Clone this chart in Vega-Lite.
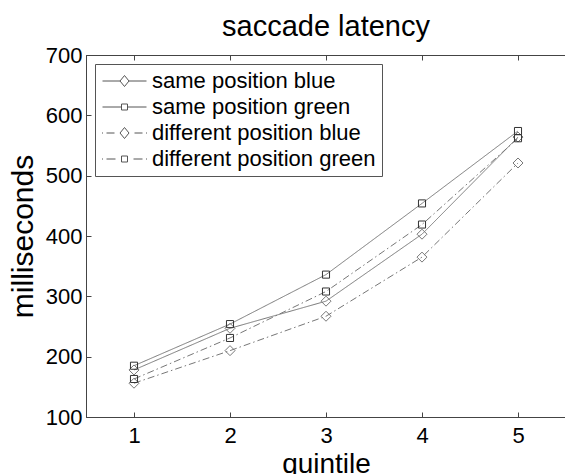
{
  "$schema": "https://vega.github.io/schema/vega-lite/v6.json",
  "width": 480,
  "height": 362,
  "autosize": {"type": "none"},
  "padding": {"left": 86, "top": 55, "right": 0, "bottom": 57},
  "background": "white",
  "title": {"text": "saccade latency", "fontSize": 29, "font": "Liberation Sans", "fontWeight": "normal", "color": "black", "anchor": "middle", "baseline": "alphabetic", "offset": 18, "dy": 39},
  "config": {
    "view": {"stroke": "#444", "strokeWidth": 1},
    "axis": {"grid": false, "domainColor": "#444", "tickColor": "#444", "labelColor": "black", "titleColor": "black", "labelFont": "Liberation Sans", "titleFont": "Liberation Sans", "titleFontWeight": "normal"}
  },
  "resolve": {"axis": {"x": "independent"}},
  "data": {"values": [
    {"q": 1, "series": "same position blue", "ms": 178},
    {"q": 2, "series": "same position blue", "ms": 247},
    {"q": 3, "series": "same position blue", "ms": 292},
    {"q": 4, "series": "same position blue", "ms": 403},
    {"q": 5, "series": "same position blue", "ms": 564},
    {"q": 1, "series": "same position green", "ms": 185},
    {"q": 2, "series": "same position green", "ms": 254},
    {"q": 3, "series": "same position green", "ms": 336},
    {"q": 4, "series": "same position green", "ms": 454},
    {"q": 5, "series": "same position green", "ms": 574},
    {"q": 1, "series": "different position blue", "ms": 156},
    {"q": 2, "series": "different position blue", "ms": 210},
    {"q": 3, "series": "different position blue", "ms": 267},
    {"q": 4, "series": "different position blue", "ms": 365},
    {"q": 5, "series": "different position blue", "ms": 521},
    {"q": 1, "series": "different position green", "ms": 163},
    {"q": 2, "series": "different position green", "ms": 231},
    {"q": 3, "series": "different position green", "ms": 308},
    {"q": 4, "series": "different position green", "ms": 419},
    {"q": 5, "series": "different position green", "ms": 562}
  ]},
  "encoding": {
    "x": {"field": "q", "type": "quantitative", "scale": {"domain": [0.5, 5.5], "nice": false, "zero": false}, "axis": null},
    "y": {"field": "ms", "type": "quantitative", "scale": {"domain": [100, 700], "nice": false, "zero": false},
          "axis": {"orient": "left", "values": [100, 200, 300, 400, 500, 600, 700], "tickSize": -5, "labelPadding": 9, "labelFontSize": 22,
                   "title": "milliseconds", "titleFontSize": 30, "titleX": -54, "titleY": 181, "titleAngle": 270, "titleBaseline": "alphabetic", "titleAlign": "center"}}
  },
  "layer": [
    {
      "mark": {"type": "line", "strokeWidth": 1, "color": "#777"},
      "encoding": {
        "x": {"field": "q", "type": "quantitative", "scale": {"domain": [0.5, 5.5], "nice": false, "zero": false},
              "axis": {"orient": "top", "labels": false, "title": null, "values": [1, 2, 3, 4, 5], "tickSize": -5, "domain": true}},
        "detail": {"field": "series", "type": "nominal"},
        "strokeDash": {"condition": {"test": "indexof(datum.series, 'different') >= 0", "value": [7, 3, 1.5, 3]}, "value": [1, 0]}
      }
    },
    {
      "transform": [{"filter": "indexof(datum.series, 'blue') >= 0"}],
      "mark": {"type": "point", "shape": "diamond", "size": 100, "filled": false, "strokeWidth": 1, "opacity": 1, "color": "#777"},
      "encoding": {
        "x": {"field": "q", "type": "quantitative", "scale": {"domain": [0.5, 5.5], "nice": false, "zero": false},
              "axis": {"orient": "bottom", "values": [1, 2, 3, 4, 5], "tickSize": -5, "labelPadding": 13, "labelFontSize": 22, "format": "d",
                       "title": "quintile", "titleFontSize": 28, "titleX": 240, "titleY": 55, "titleBaseline": "alphabetic", "titleAlign": "center"}}
      }
    },
    {
      "transform": [{"filter": "indexof(datum.series, 'green') >= 0"}],
      "mark": {"type": "point", "shape": "square", "size": 50, "filled": false, "strokeWidth": 1, "opacity": 1, "color": "#333"}
    },
    {
      "mark": {"type": "point", "filled": false, "strokeWidth": 1, "opacity": 0, "color": "#555"},
      "encoding": {
        "shape": {"field": "series", "type": "nominal",
                  "scale": {"domain": ["same position blue", "same position green", "different position blue", "different position green"],
                            "range": ["M-22,0H-4.5M4.5,0H22M-4.5,0L0,-5.5L4.5,0L0,5.5Z",
                                      "M-22,0H-3M3,0H22M-3,-3H3V3H-3Z",
                                      "M-22.5,0H-21.5M-18,0H-10M-4.5,0L0,-5.5L4.5,0L0,5.5ZM10,0H18M21.5,0H22.5",
                                      "M-22.5,0H-21.5M-18,0H-9M-3,-3H3V3H-3ZM9,0H18M21.5,0H22.5"]},
                  "legend": {"title": null, "orient": "top-left", "offset": 9, "padding": 6, "fillColor": "white", "strokeColor": "#555",
                             "labelFontSize": 22, "labelFont": "Liberation Sans", "labelColor": "black", "labelLimit": 400,
                             "symbolSize": 4, "symbolOffset": 12.5, "labelOffset": 16.5, "rowPadding": 4, "symbolStrokeWidth": 1,
                             "symbolStrokeColor": "#555", "symbolFillColor": "transparent", "symbolOpacity": 1}}
      }
    }
  ]
}
